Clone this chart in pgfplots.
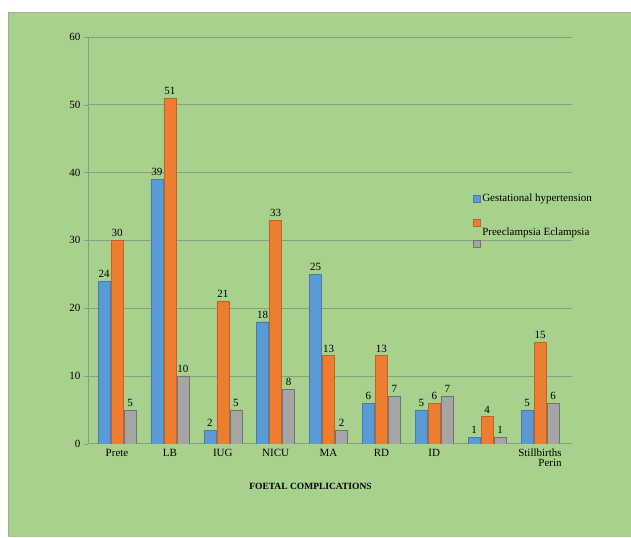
\documentclass[border=0pt]{standalone}
\usepackage{pgfplots}
\pgfplotsset{compat=1.18}
\usepackage{fontspec}
\setmainfont{Liberation Serif}
\definecolor{bgg}{HTML}{A9D18E}
\definecolor{gridc}{HTML}{8C9C84}
\definecolor{sblue}{HTML}{5B9BD5}
\definecolor{sorange}{HTML}{ED7D31}
\definecolor{sgray}{HTML}{A5A5A5}
\begin{document}
\begin{tikzpicture}[x=1pt,y=1pt]
\fill[white] (0,0) rectangle (631,-537);
\fill[bgg] (8,-12) rectangle (631,-537);
\draw[gray!70, line width=0.6pt] (8,-537) -- (8,-12) -- (631,-12);
\begin{axis}[
  at={(88pt,-444pt)}, anchor=south west,
  scale only axis, width=484pt, height=407pt,
  xmin=-0.55, xmax=8.6, ymin=0, ymax=60,
  ytick={0,10,...,60},
  xtick={0,...,8},
  xticklabels={Prete,LB,IUG,NICU,MA,RD,ID,{},{Stillbirths\\[-1pt]Perin}},
  xticklabel style={align=right, font=\fontsize{11}{11}\selectfont, yshift=2pt},
  yticklabel style={font=\fontsize{11}{12}\selectfont},
  /pgf/number format/assume math mode=true,
  axis x line=bottom, axis y line=left,
  axis line style={-, gridc, line width=0.8pt},
  x tick style={draw=none},
  y tick style={gridc},
  tick align=outside, major tick length=4pt,
  ymajorgrids, grid style={gridc, line width=0.9pt},
  ybar, bar width=12pt,
  nodes near coords,
  every node near coord/.append style={font=\fontsize{11}{12}\selectfont, black},
  xlabel={\textbf{FOETAL COMPLICATIONS}},
  xlabel style={font=\fontsize{9.5}{10}\selectfont, at={(0.46,0)}, anchor=north, yshift=-36pt},
  legend style={at={(0.789,0.625)}, anchor=north west, draw=none, fill=none,
    font=\fontsize{11}{12}\selectfont, row sep=14pt, cells={anchor=west}},
  legend image code/.code={\fill[#1] (0pt,-3.5pt) rectangle (7pt,3.5pt);},
]
\addplot[fill=sblue, draw=sblue!80!black, bar shift=-13pt] coordinates {(0,24) (1,39) (2,2) (3,18) (4,25) (5,6) (6,5) (7,1) (8,5)};
\addplot[fill=sorange, draw=sorange!80!black, bar shift=0pt] coordinates {(0,30) (1,51) (2,21) (3,33) (4,13) (5,13) (6,6) (7,4) (8,15)};
\addplot[fill=sgray, draw=sgray!70!black, bar shift=13pt] coordinates {(0,5) (1,10) (2,5) (3,8) (4,2) (5,7) (6,7) (7,1) (8,6)};
\legend{Gestational hypertension, \mbox{}, \smash{\raisebox{8pt}{Preeclampsia Eclampsia}}}
\end{axis}
\end{tikzpicture}
\end{document}
